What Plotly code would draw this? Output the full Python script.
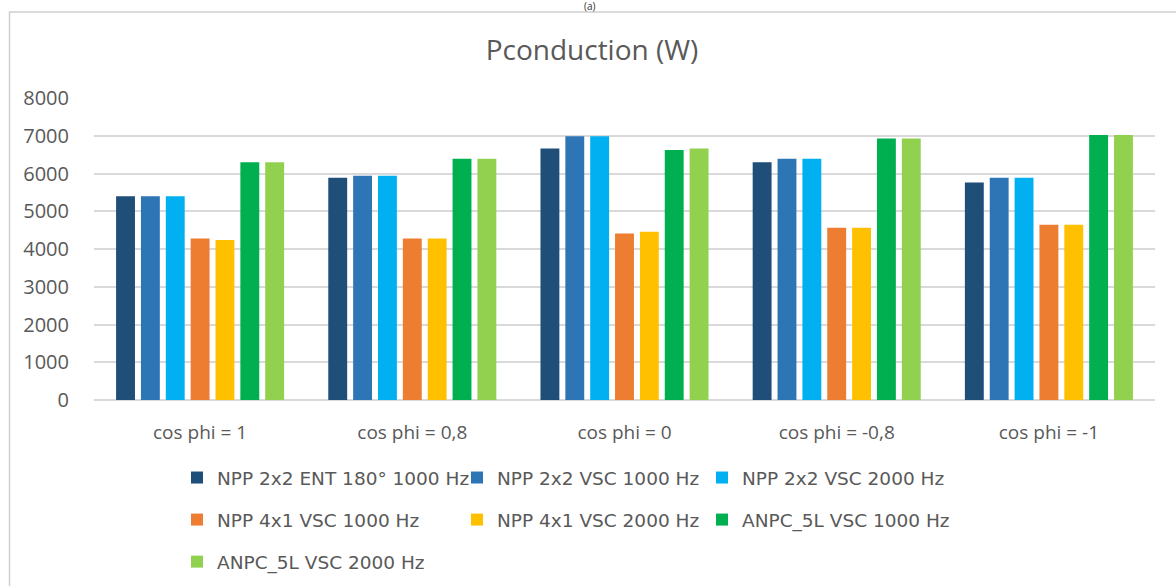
import plotly.graph_objects as go

categories = ["cos phi = 1", "cos phi = 0,8", "cos phi = 0", "cos phi = -0,8", "cos phi = -1"]

npp22_ent180_1000 = [5400, 5890, 6660, 6300, 5760]
npp22_vsc_1000 = [5400, 5940, 6990, 6390, 5890]
npp22_vsc_2000 = [5400, 5940, 6990, 6390, 5890]
npp41_vsc_1000 = [4280, 4280, 4410, 4560, 4640]
npp41_vsc_2000 = [4240, 4280, 4460, 4560, 4640]
anpc5l_vsc_1000 = [6300, 6390, 6620, 6930, 7020]
anpc5l_vsc_2000 = [6300, 6390, 6660, 6930, 7020]

y_ticks = [0, 1000, 2000, 3000, 4000, 5000, 6000, 7000, 8000]

# legend column: "legend" (col 1), "legend2" (col 2), "legend3" (col 3)
series = [
    ("NPP 2x2 ENT 180° 1000 Hz", npp22_ent180_1000, "#1f4e79", "legend"),
    ("NPP 2x2 VSC 1000 Hz", npp22_vsc_1000, "#2e75b6", "legend2"),
    ("NPP 2x2 VSC 2000 Hz", npp22_vsc_2000, "#00b0f0", "legend3"),
    ("NPP 4x1 VSC 1000 Hz", npp41_vsc_1000, "#ed7d31", "legend"),
    ("NPP 4x1 VSC 2000 Hz", npp41_vsc_2000, "#ffc000", "legend2"),
    ("ANPC_5L VSC 1000 Hz", anpc5l_vsc_1000, "#00b050", "legend3"),
    ("ANPC_5L VSC 2000 Hz", anpc5l_vsc_2000, "#92d050", "legend"),
]

W, H = 1176, 586
L, R, T, B = 94, 21, 98, 186
PW = W - L - R
PH = H - T - B

def px_to_paper_x(px):
    return (px - L) / PW

def px_to_paper_y(py):
    return (H - B - py) / PH

FONT = "Open Sans"
LEG_FONT = "DejaVu Sans"
GREY = "#595959"

fig = go.Figure()
for i, (name, vals, color, leg) in enumerate(series):
    fig.add_trace(go.Bar(
        x=categories, y=vals, name=name, legend=leg, legendgroup=f"g{i}",
        marker=dict(color=color, line=dict(width=0)),
    ))

leg_common = dict(
    orientation="v", xanchor="left", yanchor="top",
    font=dict(family=LEG_FONT, size=18.5, color=GREY),
    bgcolor="rgba(0,0,0,0)", traceorder="grouped", tracegroupgap=15,
    y=px_to_paper_y(459),
)

fig.update_layout(
    width=W, height=H,
    margin=dict(l=L, r=R, t=T, b=B, pad=0, autoexpand=False),
    paper_bgcolor="white", plot_bgcolor="white",
    barmode="group", bargap=0.18, bargroupgap=0.24,
    font=dict(family=FONT, color=GREY),
    title=dict(text="Pconduction (W)", x=592 / W, xanchor="center",
               y=1 - 50 / H, yanchor="middle", yref="container",
               font=dict(family=FONT, size=28, color=GREY)),
    xaxis=dict(showgrid=False, showline=False, ticks="",
               tickfont=dict(family=FONT, size=19, color=GREY),
               ticklabelstandoff=19),
    yaxis=dict(range=[0, 8000], tickvals=y_ticks, showgrid=True,
               gridcolor="#d9d9d9", gridwidth=1.5, zeroline=True,
               zerolinecolor="#d9d9d9", zerolinewidth=1.5, showline=False,
               ticks="", tickfont=dict(family=FONT, size=20, color=GREY),
               ticklabelstandoff=24),
    legend=dict(x=px_to_paper_x(177), **leg_common),
    legend2=dict(x=px_to_paper_x(457), **leg_common),
    legend3=dict(x=px_to_paper_x(702), **leg_common),
    shapes=[dict(type="rect", xref="paper", yref="paper",
                 x0=px_to_paper_x(9.5), x1=px_to_paper_x(W + 10),
                 y0=px_to_paper_y(H + 10), y1=px_to_paper_y(12),
                 line=dict(color="#d0d0d0", width=1.5), fillcolor="rgba(0,0,0,0)",
                 layer="below")],
    annotations=[dict(text="(a)", xref="paper", yref="paper",
                      x=px_to_paper_x(590), y=px_to_paper_y(5.5),
                      xanchor="center", yanchor="middle", showarrow=False,
                      font=dict(family=FONT, size=10, color="#333333"))],
)

fig.write_html("out.html", config={"displayModeBar": False},
               post_script="document.body.style.margin='0';")
